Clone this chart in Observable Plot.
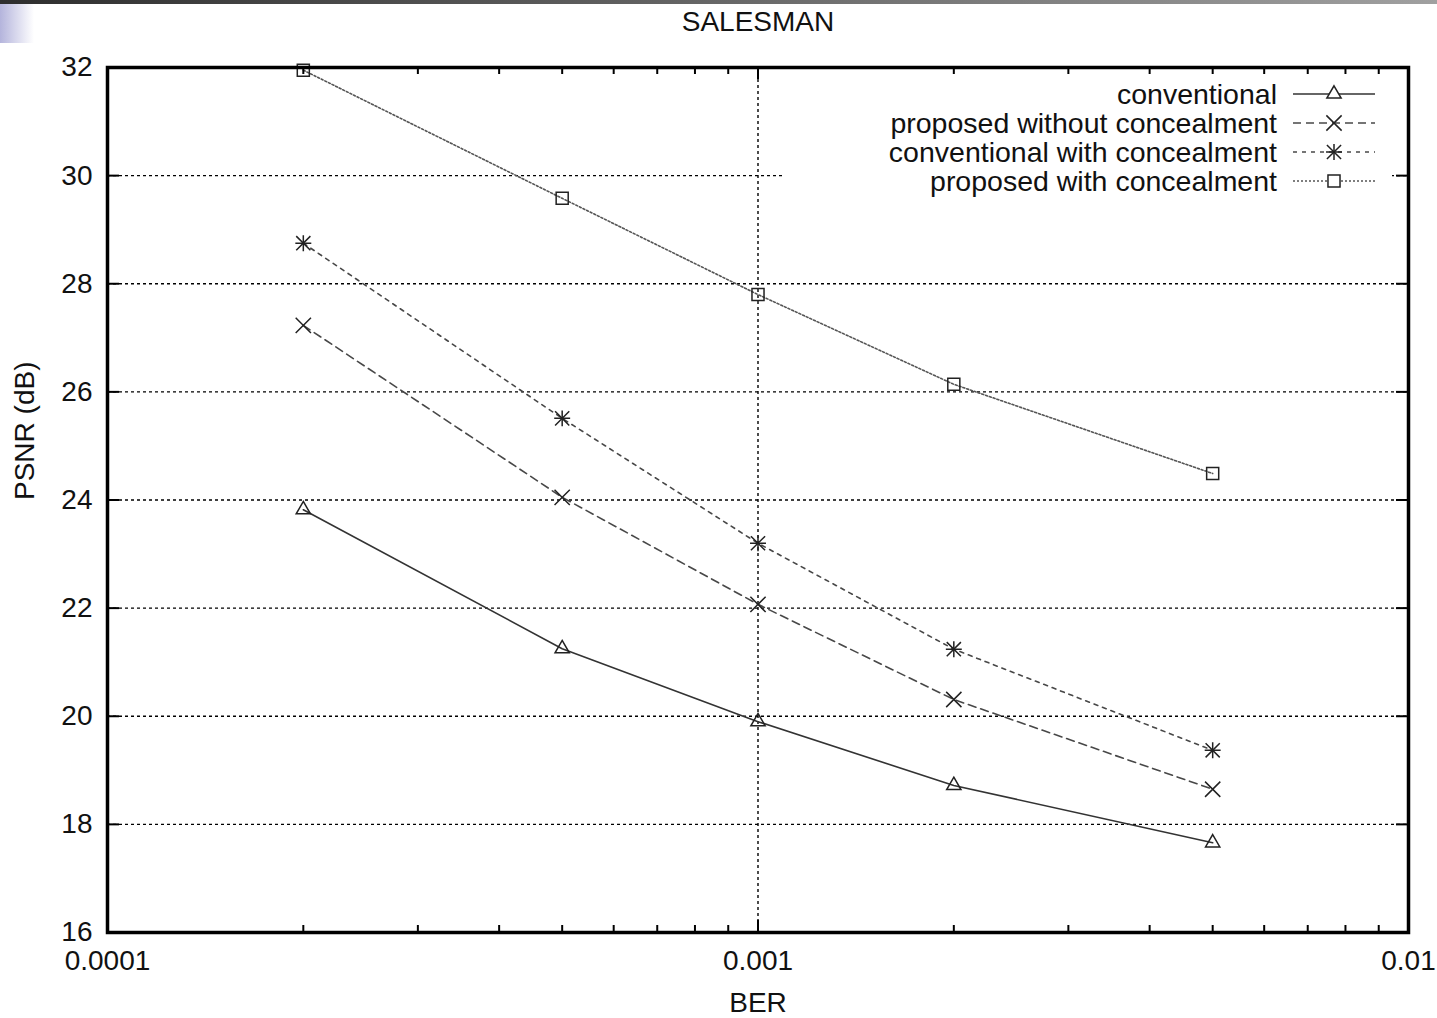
<!DOCTYPE html>
<html><head><meta charset="utf-8">
<script src="https://cdn.jsdelivr.net/npm/d3@7"></script>
<script src="https://cdn.jsdelivr.net/npm/@observablehq/plot@0.6"></script>
<style>
body{margin:0;background:#fff;}
#wrap{position:relative;width:1437px;height:1018px;overflow:hidden;font-family:"Liberation Sans",Arial,sans-serif;}
#bar{position:absolute;left:0;top:0;width:1437px;height:4px;background:linear-gradient(to right,#2e2e2e,#a0a0a0);}
#sq{position:absolute;left:0;top:4px;width:34px;height:39px;background:linear-gradient(to right,#b4b4dc,#ffffff);}
#wrap svg{position:absolute;left:0;top:0;}
</style></head><body><div id="wrap"><div id="bar"></div><div id="sq"></div></div>
<script>
const title = "SALESMAN";
const xLabel = "BER";
const yLabel = "PSNR (dB)";
const ber = [0.0002, 0.0005, 0.001, 0.002, 0.005];
const seriesNames = ["conventional", "proposed without concealment", "conventional with concealment", "proposed with concealment"];
const conventional = [23.82, 21.25, 19.90, 18.72, 17.66];
const proposedWithout = [27.23, 24.05, 22.07, 20.31, 18.65];
const conventionalWith = [28.75, 25.51, 23.20, 21.24, 19.37];
const proposedWith = [31.95, 29.58, 27.80, 26.14, 24.49];
const yTicks = [16, 18, 20, 22, 24, 26, 28, 30, 32];
const yGrid = [18, 20, 22, 24, 26, 28, 30];
const xMajor = [0.0001, 0.001, 0.01];
const xMinor = [0.0002, 0.0003, 0.0004, 0.0005, 0.0006, 0.0007, 0.0008, 0.0009, 0.002, 0.003, 0.004, 0.005, 0.006, 0.007, 0.008, 0.009];
const xGrid = [0.001];
const xTickLabels = ["0.0001", "0.001", "0.01"];

const values = [conventional, proposedWithout, conventionalWith, proposedWith];
const styles = [
  {stroke: "#333", dash: null, symbols: ["triangle"], r: 5.3},
  {stroke: "#484848", dash: "8,5", symbols: ["times"], r: 7},
  {stroke: "#484848", dash: "4,5", symbols: ["plus", "times"], r: 6.5},
  {stroke: "#555", dash: "2,2", symbols: ["square"], r: 6.8}
];
const rows = [];
seriesNames.forEach((s, i) => ber.forEach((b, j) => rows.push({series: s, idx: i, ber: b, psnr: values[i][j]})));

const W = 1437, H = 1018, mL = 107, mR = 29, mT = 67, mB = 86;
const fw = W - mL - mR, fh = H - mT - mB;
const FONT = "'Liberation Sans', Arial, sans-serif";

const marks = [
  Plot.ruleY(yGrid, {y: d => d, stroke: "#000", strokeWidth: 1.4, strokeDasharray: "3,3"}),
  Plot.ruleX(xGrid, {x: d => d, stroke: "#000", strokeWidth: 1.4, strokeDasharray: "3,3"})
];
styles.forEach((st, i) => {
  const data = rows.filter(d => d.idx === i);
  marks.push(Plot.line(data, {x: "ber", y: "psnr", stroke: st.stroke, strokeWidth: 1.6, strokeDasharray: st.dash}));
  st.symbols.forEach(sym => {
    marks.push(Plot.dot(data, {x: "ber", y: "psnr", symbol: () => sym, r: sym === "plus" ? st.r * 0.8 : st.r, stroke: "#222", strokeWidth: 1.5, fill: "none"}));
  });
});
marks.push(
  Plot.tickY(yTicks, {y: d => d, insetRight: fw - 12, stroke: "#000", strokeWidth: 2}),
  Plot.tickY(yTicks, {y: d => d, insetLeft: fw - 12, stroke: "#000", strokeWidth: 2}),
  Plot.tickX(xMajor, {x: d => d, insetTop: fh - 12, stroke: "#000", strokeWidth: 2}),
  Plot.tickX(xMajor, {x: d => d, insetBottom: fh - 12, stroke: "#000", strokeWidth: 2}),
  Plot.tickX(xMinor, {x: d => d, insetTop: fh - 7, stroke: "#000", strokeWidth: 2}),
  Plot.tickX(xMinor, {x: d => d, insetBottom: fh - 7, stroke: "#000", strokeWidth: 2}),
  Plot.frame({stroke: "#000", strokeWidth: 3.5}),
  Plot.axisY({ticks: yTicks, tickSize: 0, tickPadding: 15, fontSize: 28, label: null}),
  Plot.text(xMajor, {x: d => d, text: (d, i) => xTickLabels[i], frameAnchor: "bottom", lineAnchor: "middle", dy: 29, fontSize: 28, fill: "#111"}),
  Plot.text([title], {text: d => d, frameAnchor: "top", lineAnchor: "middle", dy: -45, fontSize: 28, fill: "#111"}),
  Plot.text([xLabel], {text: d => d, frameAnchor: "bottom", lineAnchor: "middle", dy: 71, fontSize: 28, fill: "#111"}),
  Plot.text([yLabel], {text: d => d, frameAnchor: "left", dx: -82, rotate: -90, fontSize: 28, fill: "#111"})
);

const chart = Plot.plot({
  width: W, height: H,
  marginLeft: mL, marginRight: mR, marginTop: mT, marginBottom: mB,
  x: {type: "log", domain: [0.0001, 0.01], axis: null},
  y: {domain: [16, 32]},
  style: {fontFamily: FONT, fontSize: "28px", color: "#111", background: "transparent"},
  marks
});
document.getElementById("wrap").appendChild(chart);

// legend
const svg = d3.select(chart);
const lg = svg.append("g");
lg.append("rect").attr("x", 782).attr("y", 78).attr("width", 610).attr("height", 118).attr("fill", "#fff");
const map = {triangle: d3.symbolTriangle, times: d3.symbolTimes, plus: d3.symbolPlus, square: d3.symbolSquare};
seriesNames.forEach((name, i) => {
  const y = 94 + i * 29;
  const st = styles[i];
  lg.append("text").attr("x", 1277).attr("y", y).attr("text-anchor", "end").attr("dy", "0.35em")
    .attr("font-family", FONT).attr("font-size", 28.5).attr("fill", "#111").text(name);
  lg.append("line").attr("x1", 1293).attr("x2", 1375).attr("y1", y).attr("y2", y)
    .attr("stroke", st.stroke).attr("stroke-width", 1.6).attr("stroke-dasharray", st.dash);
  st.symbols.forEach(sym => {
    const r = sym === "plus" ? st.r * 0.8 : st.r;
    lg.append("path").attr("transform", `translate(1334,${y})`)
      .attr("d", d3.symbol(map[sym], r * r * Math.PI)())
      .attr("fill", sym === "square" || sym === "triangle" ? "#fff" : "none").attr("stroke", "#222").attr("stroke-width", 1.5);
  });
});
</script></body></html>
